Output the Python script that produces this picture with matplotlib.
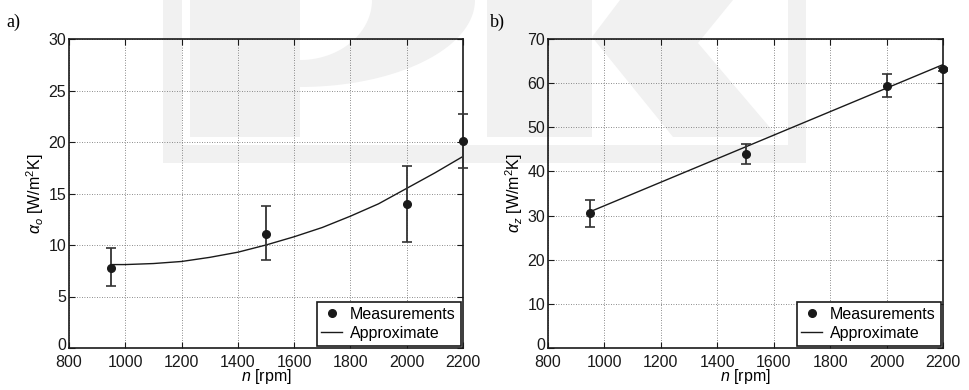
import matplotlib
matplotlib.use("Agg")
import matplotlib.pyplot as plt
import matplotlib.transforms as mtransforms
from matplotlib.patches import Polygon, Rectangle
import numpy as np

plt.rcParams['font.family'] = ['Liberation Sans', 'DejaVu Sans']
plt.rcParams['mathtext.fontset'] = 'custom'
plt.rcParams['mathtext.rm'] = 'Liberation Sans'
plt.rcParams['mathtext.it'] = 'Liberation Sans:italic'
plt.rcParams['mathtext.bf'] = 'Liberation Sans:bold'

# measured points
n_meas = [950, 1500, 2000, 2200]
alpha_o = [7.8, 11.1, 14.0, 20.1]
alpha_o_lo = [6.0, 8.5, 10.3, 17.5]
alpha_o_hi = [9.7, 13.8, 17.7, 22.7]

alpha_z = [30.5, 44.0, 59.3, 63.1]
alpha_z_lo = [27.3, 41.7, 56.9, 62.7]
alpha_z_hi = [33.6, 46.3, 62.0, 63.5]

# approximation curves
n_fit_o = [950, 1000, 1100, 1200, 1300, 1400, 1500, 1600, 1700, 1800, 1900, 2000, 2100, 2200]
fit_o = [8.1, 8.1, 8.2, 8.4, 8.8, 9.3, 10.0, 10.8, 11.7, 12.8, 14.0, 15.5, 17.0, 18.6]
n_fit_z = [950, 2200]
fit_z = [30.9, 64.2]

xticks = [800, 1000, 1200, 1400, 1600, 1800, 2000, 2200]

W, H = 969, 390
fig = plt.figure(figsize=(W / 100, H / 100), dpi=100)

# faint "PK" watermark behind the plots, pixel coordinates
bg = fig.add_axes([0, 0, 1, 1], zorder=-10)
bg.set_xlim(0, W)
bg.set_ylim(H, 0)
bg.axis('off')
wm = '#f1f1f1'
for x0, y0, w, h in [(163, 0, 19, 163), (163, 145, 643, 18), (788, 0, 18, 163),
                     (190, 0, 110, 137), (487, 0, 105, 137)]:
    bg.add_patch(Rectangle((x0, y0), w, h, color=wm, lw=0))
t = np.linspace(0, np.pi / 2, 40)
outer = np.column_stack([300 + 175 * np.cos(t), 87 * np.sin(t)])
inner = np.column_stack([300 + 72 * np.cos(t[::-1]), 60 * np.sin(t[::-1])])
bg.add_patch(Polygon(np.vstack([outer, inner]), closed=True, color=wm, lw=0))
bg.add_patch(Polygon([(620, 0), (733, 0), (698, 43), (778, 137), (673, 137), (592, 37)],
                     closed=True, color=wm, lw=0))

axes_pos = [[69 / W, 42 / H, 394 / W, 309 / H], [548 / W, 42 / H, 395 / W, 309 / H]]
panels = [
    ('a)', alpha_o, alpha_o_lo, alpha_o_hi, n_fit_o, fit_o, 30, 5, r'$\alpha_o$ [W/m$^\mathregular{2}$K]'),
    ('b)', alpha_z, alpha_z_lo, alpha_z_hi, n_fit_z, fit_z, 70, 10, r'$\alpha_z$ [W/m$^\mathregular{2}$K]'),
]

for pos, (tag, y, lo, hi, nf, yf, ymax, ystep, ylab) in zip(axes_pos, panels):
    ax = fig.add_axes(pos)
    ax.set_facecolor('none')
    yerr = [np.array(y) - np.array(lo), np.array(hi) - np.array(y)]
    ax.errorbar(n_meas, y, yerr=yerr, fmt='none', ecolor='#333333',
                elinewidth=1.3, capsize=3.5, capthick=1.2, clip_on=False, zorder=3)
    pts, = ax.plot(n_meas, y, 'o', color='#1a1a1a', markersize=5.5, clip_on=False,
                   zorder=4, label='Measurements')
    ln, = ax.plot(nf, yf, color='#1a1a1a', lw=1.0, label='Approximate', zorder=2)
    ax.set_xlim(800, 2200)
    ax.set_ylim(0, ymax)
    ax.set_xticks(xticks)
    ax.set_yticks(np.arange(0, ymax + 1, ystep))
    ax.grid(True, linestyle=(0, (1, 2)), color='#666666', lw=0.6)
    ax.tick_params(direction='in', top=True, right=True, length=4, width=0.8,
                   labelsize=11.5, colors='#1a1a1a')
    ax.tick_params(axis='x', pad=5)
    ax.tick_params(axis='y', pad=2)
    # lift the "0" label a little so it does not run into "800"
    zero_lab = ax.get_yticklabels()[0]
    zero_lab.set_transform(zero_lab.get_transform() +
                           mtransforms.ScaledTranslation(0, 3 / 72, fig.dpi_scale_trans))
    for s in ax.spines.values():
        s.set_linewidth(1.2)
        s.set_color('#1a1a1a')
    ax.set_xlabel(r'$n$ [rpm]', fontsize=11.5, labelpad=-2)
    ax.set_ylabel(ylab, fontsize=11.5, labelpad=2)
    leg = ax.legend(handles=[pts, ln], loc='lower right', fontsize=11.5, frameon=True,
                    fancybox=False, handlelength=1.3, handletextpad=0.5, borderpad=0.3,
                    labelspacing=0.25, borderaxespad=0.15, numpoints=1, framealpha=1)
    leg.get_frame().set_edgecolor('#1a1a1a')
    leg.get_frame().set_linewidth(1.2)
    fig.text(pos[0] - (63 if tag == 'a)' else 58) / W, 1 - 22 / H, tag,
             family='Liberation Serif', fontsize=13, va='center', ha='left')

fig.savefig('out.png', dpi=100)
